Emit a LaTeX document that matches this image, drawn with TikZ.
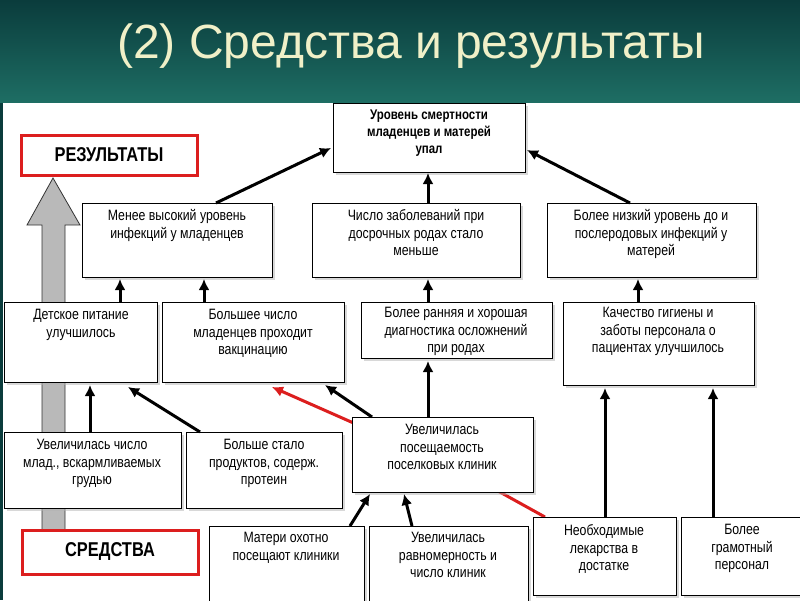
\documentclass[tikz,border=0pt]{standalone}
\usepackage{fontspec}
\setmainfont{Liberation Sans}[FakeStretch=0.82]
\newfontfamily\titlefont{Liberation Sans}
\usetikzlibrary{shadows,arrows.meta}
\definecolor{teal1}{RGB}{10,60,60}
\definecolor{teal2}{RGB}{30,110,100}
\definecolor{cream}{RGB}{240,240,200}
\definecolor{redb}{RGB}{220,30,30}
\tikzset{
  box/.style={draw=black,fill=white,line width=1pt,drop shadow={shadow xshift=2pt,shadow yshift=-2pt,fill=gray!60},align=center,anchor=north west,inner sep=0pt},
  lab/.style={font=\fontsize{15}{17.5}\selectfont,align=center,anchor=north},
  arr/.style={line width=3pt,-{Latex[length=11pt,width=11pt]}},
  redbox/.style={draw=redb,line width=3pt,fill=white,font=\bfseries\fontsize{20}{22}\selectfont,align=center},
}
\begin{document}
\begin{tikzpicture}[x=1pt,y=-1pt]
\useasboundingbox (0,0) rectangle (800,600);
\shade[top color=teal1,bottom color=teal2] (0,0) rectangle (800,103);
\fill[teal1] (0,103) rectangle (800,600);
\fill[white] (3,103) rectangle (800,600);
\node (title) [text=cream,font=\titlefont\fontsize{48}{52}\selectfont] at (411,46) {(2) Средства и результаты};
% big gray arrow
\fill[gray!55,draw=black!80,line width=0.8pt] (42,530) -- (42,225) -- (27,225) -- (53,178) -- (80,225) -- (65,225) -- (65,530) -- cycle;
% boxes
\node (top) [box,minimum width=192pt,minimum height=69pt] at (333,103) {};
\node[lab,font=\bfseries\fontsize{14}{17}\selectfont] at (429,106) {Уровень смертности\\младенцев и матерей\\упал};
\node (res) [redbox,minimum width=176pt,minimum height=40pt] at (109,155) {РЕЗУЛЬТАТЫ};
\node (b1) [box,minimum width=190pt,minimum height=74pt] at (82,203) {};
\node[lab] at (177,206) {Менее высокий уровень\\инфекций у младенцев};
\node (b2) [box,minimum width=208pt,minimum height=74pt] at (312,203) {};
\node[lab] at (416,206) {Число заболеваний при\\досрочных родах стало\\меньше};
\node (b3) [box,minimum width=209pt,minimum height=74pt] at (547,203) {};
\node[lab] at (651,206) {Более низкий уровень до и\\послеродовых инфекций у\\матерей};
\node (c1) [box,minimum width=153pt,minimum height=80pt] at (4,302) {};
\node[lab] at (81,306) {Детское питание\\улучшилось};
\node (c2) [box,minimum width=182pt,minimum height=80pt] at (162,302) {};
\node[lab] at (253,306) {Большее число\\младенцев проходит\\вакцинацию};
\node (c3) [box,minimum width=191pt,minimum height=56pt] at (361,302) {};
\node[lab] at (456,304) {Более ранняя и хорошая\\диагностика осложнений\\при родах};
\node (c4) [box,minimum width=191pt,minimum height=83pt] at (563,302) {};
\node[lab] at (658,304) {Качество гигиены и\\заботы персонала о\\пациентах улучшилось};
% red line behind
\draw[redb,line width=3pt,-{Latex[length=11pt,width=11pt]}] (545,517) -- (460,470) -- (272,387);
\node (d1) [box,minimum width=177pt,minimum height=76pt] at (4,432) {};
\node[lab] at (92,436) {Увеличилась число\\млад., вскармливаемых\\грудью};
\node (d2) [box,minimum width=156pt,minimum height=76pt] at (186,432) {};
\node[lab] at (264,436) {Больше стало\\продуктов, содерж.\\протеин};
\node (d3) [box,minimum width=181pt,minimum height=75pt] at (352,417) {};
\node[lab] at (442,421) {Увеличилась\\посещаемость\\поселковых клиник};
\node (cr) [redbox,minimum width=176pt,minimum height=44pt] at (110,552) {СРЕДСТВА};
\node (e1) [box,minimum width=155pt,minimum height=80pt] at (209,526) {};
\node[lab] at (286,529) {Матери охотно\\посещают клиники};
\node (e2) [box,minimum width=159pt,minimum height=80pt] at (369,526) {};
\node[lab] at (448,529) {Увеличилась\\равномерность и\\число клиник};
\node (e3) [box,minimum width=143pt,minimum height=78pt] at (533,517) {};
\node[lab] at (604,521) {Необходимые\\лекарства в\\достатке};
\node (e4) [box,minimum width=125pt,minimum height=78pt] at (681,517) {};
\node[lab] at (742,521) {Более\\грамотный\\персонал};
% arrows
\draw[arr] (216,203) -- (331,148);
\draw[arr] (428,203) -- (428,173);
\draw[arr] (630,203) -- (527,150);
\draw[arr] (120,302) -- (120,279);
\draw[arr] (204,302) -- (204,279);
\draw[arr] (428,302) -- (428,279);
\draw[arr] (638,302) -- (638,279);
\draw[arr] (90,432) -- (90,385);
\draw[arr] (200,432) -- (128,387);
\draw[arr] (372,417) -- (325,385);
\draw[arr] (428,417) -- (428,361);
\draw[arr] (350,526) -- (370,494);
\draw[arr] (412,526) -- (404,494);
\draw[arr] (605,517) -- (605,388);
\draw[arr] (713,517) -- (713,388);
\end{tikzpicture}
\end{document}
